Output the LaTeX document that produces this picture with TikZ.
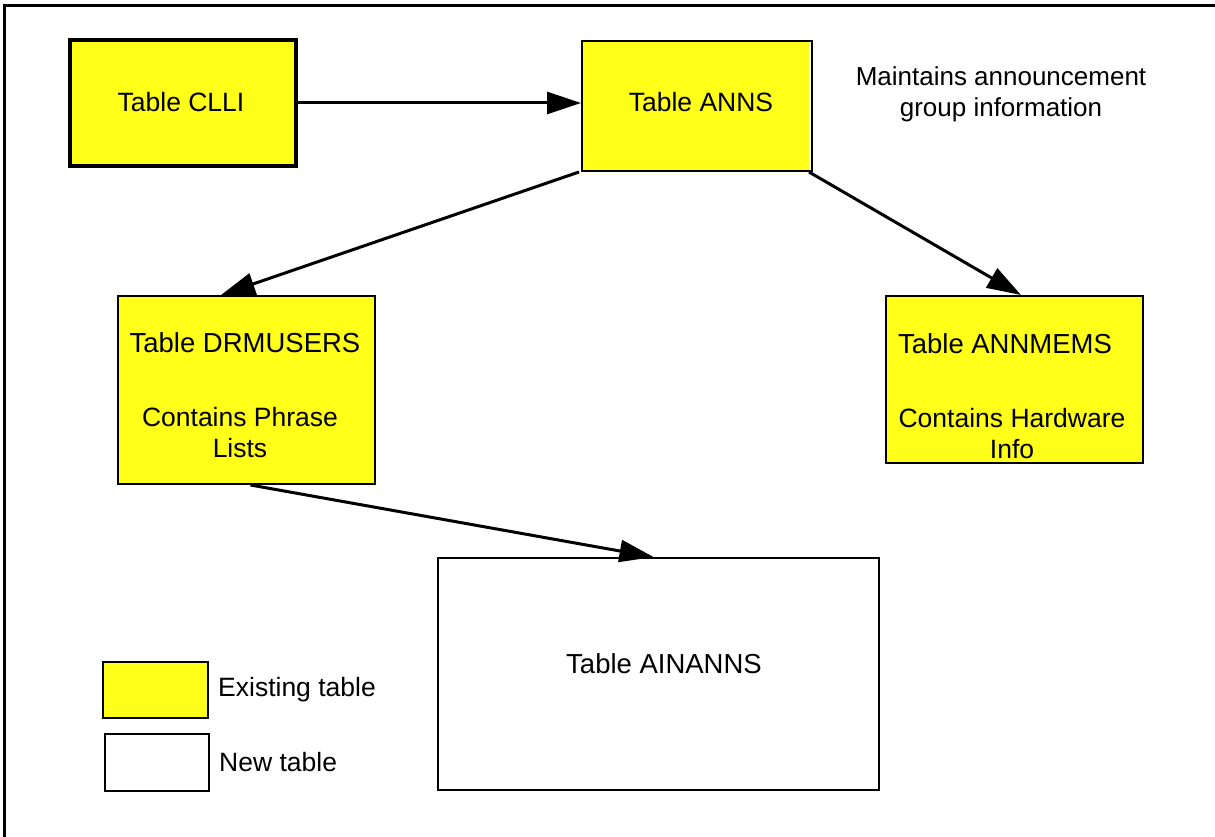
\documentclass[tikz,border=0pt]{standalone}
\usepackage{fontspec}
\setmainfont{Liberation Sans}
\usetikzlibrary{arrows.meta,calc}
\definecolor{tabyellow}{RGB}{255,255,26}
\begin{document}
\begin{tikzpicture}[x=1pt,y=-1pt,
  font=\fontsize{26.5}{31}\selectfont,
  tbl/.style={draw=black, line width=2pt, inner sep=0pt},
  existing/.style={tbl, fill=tabyellow},
  newtbl/.style={tbl, fill=white},
  lbl/.style={inner sep=0pt, align=center},
  link/.style={line width=3pt, -{Triangle[length=34pt,width=22pt]}}
]
\useasboundingbox (0,0) rectangle (1215,837);
% frame (top and left edges)
\draw[line width=3pt] (4.5,837) -- (4.5,6) -- (1215,6);

% tables
\node[existing, line width=3.5pt, minimum width=226pt, minimum height=126pt] (clli) at (183,103) {};
\fill[tabyellow] (582,41) rectangle (809,171);
\node[tbl, minimum width=230pt, minimum height=130pt] (anns) at (697,106) {};
\node[existing, minimum width=257pt, minimum height=188pt] (drm) at (246.5,390) {};
\node[existing, minimum width=257pt, minimum height=167pt] (annm) at (1014.5,379.5) {};
\node[newtbl, minimum width=441pt, minimum height=232pt] (ain) at (658,674) {};

% table texts
\node[lbl] (clliT) at (181,102) {Table CLLI};
\node[lbl] (annsT) at (701,102) {Table ANNS};
\node[lbl, font=\fontsize{26}{31}\selectfont] (annsNote) at (1001,94) {Maintains announcement\\group information};
\node[lbl, font=\fontsize{27.5}{31}\selectfont] (drmT) at (245,343) {Table DRMUSERS};
\node[lbl] (drmD) at (240,433) {Contains Phrase\\Lists};
\node[lbl, font=\fontsize{27.5}{31}\selectfont] (annmT) at (1005,344) {Table ANNMEMS};
\node[lbl] (annmD) at (1012,434) {Contains Hardware\\Info};
\node[lbl, font=\fontsize{27.5}{31}\selectfont] (ainT) at (664,664) {Table AINANNS};

% legend
\node[existing, minimum width=105pt, minimum height=56pt] (legE) at (155.5,690) {};
\node[newtbl, minimum width=104pt, minimum height=57pt] (legN) at (157,762.5) {};
\node[lbl, anchor=west] (legET) at ([xshift=9pt]legE.east) {Existing table};
\node[lbl, anchor=west] (legNT) at ([xshift=9pt]legN.east) {New table};

% relations
\draw[link] (clli.east) -- (clli.east -| anns.west);
\draw[link] ([xshift=-2pt]anns.south west) -- ([xshift=104pt]drm.north west);
\draw[link] ([xshift=-4pt]anns.south east) -- ([xshift=136pt]annm.north west);
\draw[link] ([xshift=4pt]drm.south) -- ([xshift=217pt]ain.north west);
\end{tikzpicture}
\end{document}
